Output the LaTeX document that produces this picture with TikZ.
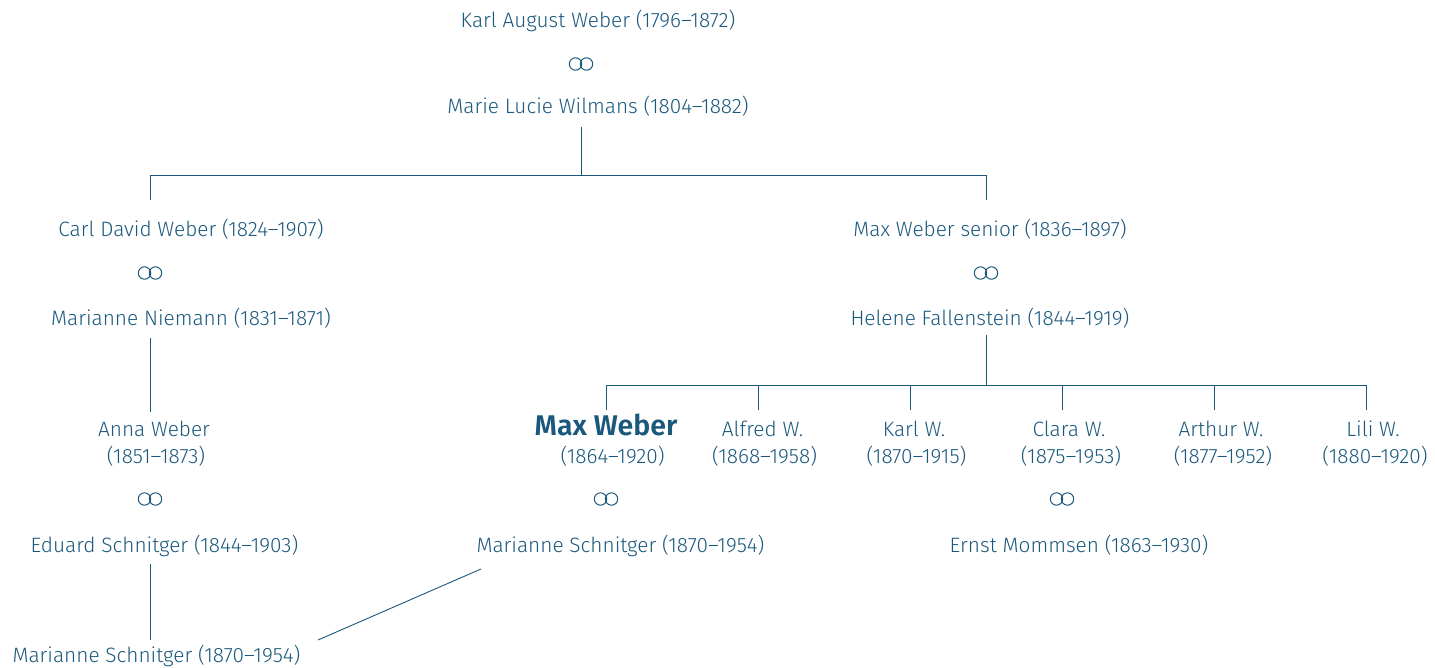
\documentclass[tikz,border=0pt]{standalone}
\usepackage{fontspec}
\setmainfont{Fira Sans}[UprightFont=* Light, BoldFont=* SemiBold]
\definecolor{ink}{RGB}{26,88,124}
\begin{document}
\begin{tikzpicture}[x=1pt,y=-1pt,
  person/.style={anchor=base,inner sep=0pt,text=ink,font=\fontsize{20.8}{24}\selectfont},
  main/.style={person,font=\fontsize{28.5}{32}\selectfont\bfseries},
  link/.style={draw=ink,line width=0.9pt},
  ring/.style={draw=ink,line width=1pt}]
\useasboundingbox (0,0) rectangle (1435,667);
\newcommand\marriage[3]{\coordinate (#1) at (#2,#3);
  \draw[ring] (#2-5.5,#3) circle[radius=6.2pt] (#2+5.5,#3) circle[radius=6.2pt];}
% generation 1
\node[person] (karl) at (598,27) {Karl August Weber (1796–1872)};
\marriage{m1}{581}{64}
\node[person] (marie) at (598,113) {Marie Lucie Wilmans (1804–1882)};
% generation 2
\node[person] (carl) at (191,236) {Carl David Weber (1824–1907)};
\marriage{m2}{150}{273}
\node[person] (niemann) at (191,325) {Marianne Niemann (1831–1871)};
\node[person] (maxsr) at (990,236) {Max Weber senior (1836–1897)};
\marriage{m3}{986}{273}
\node[person] (helene) at (990,325) {Helene Fallenstein (1844–1919)};
% generation 3
\node[person] (anna) at (154,436) {Anna Weber};
\node[person] (annay) at (156,463) {(1851–1873)};
\marriage{m4}{150}{499}
\node[person] (eduard) at (164.5,552) {Eduard Schnitger (1844–1903)};
\node[main] (max) at (606,435) {Max Weber};
\node[person] (maxy) at (612.5,463) {(1864–1920)};
\marriage{m5}{606}{499}
\node[person] (marianne) at (620.5,552) {Marianne Schnitger (1870–1954)};
\node[person] (alfred) at (762.5,436) {Alfred W.};
\node[person] (alfredy) at (764.5,463) {(1868–1958)};
\node[person] (karlw) at (914,436) {Karl W.};
\node[person] (karlwy) at (916.5,463) {(1870–1915)};
\node[person] (clara) at (1069,436) {Clara W.};
\node[person] (claray) at (1071,463) {(1875–1953)};
\marriage{m6}{1062}{499}
\node[person] (ernst) at (1079,552) {Ernst Mommsen (1863–1930)};
\node[person] (arthur) at (1221,436) {Arthur W.};
\node[person] (arthury) at (1223,463) {(1877–1952)};
\node[person] (lili) at (1373,436) {Lili W.};
\node[person] (liliy) at (1375,463) {(1880–1920)};
% generation 4
\node[person] (mariannec) at (156.5,662) {Marianne Schnitger (1870–1954)};
% connector points
\coordinate (a0) at (581,127); \coordinate (a1) at (581,175);
\coordinate (aL) at (150,175); \coordinate (aR) at (986,175);
\coordinate (aLd) at (150,200); \coordinate (aRd) at (986,200);
\coordinate (b0) at (150,338); \coordinate (b1) at (150,412);
\coordinate (c0) at (150,564); \coordinate (c1) at (150,640);
\coordinate (d0) at (986,335); \coordinate (d1) at (986,385);
\coordinate (d2) at (481,569); \coordinate (d3) at (318,640);
\draw[link] (a0) -- (a1);
\draw[link] (aLd) -- (aL) -- (aR) -- (aRd);
\draw[link] (b0) -- (b1);
\draw[link] (c0) -- (c1);
\draw[link] (d0) -- (d1);
\draw[link] (606,385) -- (1366,385);
\foreach \x in {606,758,910,1062,1214,1366} \draw[link] (\x,385) -- (\x,410);
\draw[link] (d2) -- (d3);
\end{tikzpicture}
\end{document}
